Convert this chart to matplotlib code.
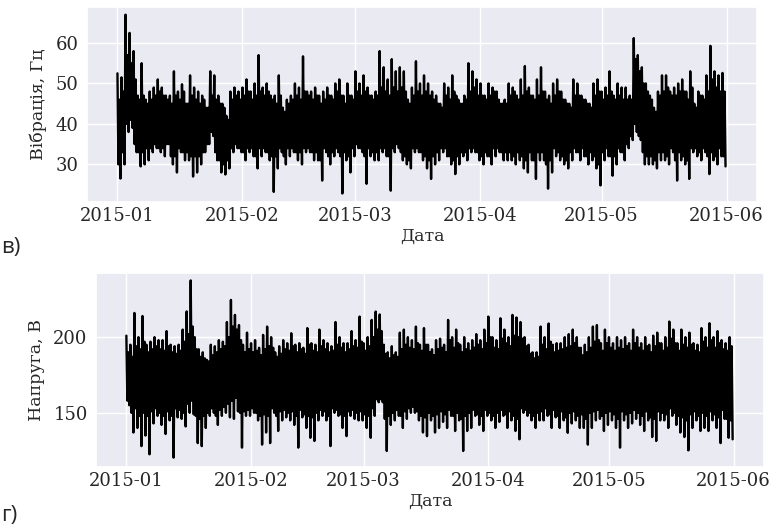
import numpy as np
import pandas as pd
import matplotlib
matplotlib.use("Agg")
import matplotlib.pyplot as plt
import matplotlib.dates as mdates
import seaborn as sns

START = "2015-01-01"

# Vibration (Hz), one entry per day from 2015-01-01 to 2015-05-31:
# daily peak, daily trough, and the upper / lower edge of the dense band
vib_high = [52.5, 51.5, 67.0, 62.5, 58.0, 47.0, 55.0, 46.0, 48.0, 49.0,
            51.0, 49.0, 47.0, 47.0, 53.0, 48.0, 49.8, 45.0, 52.0, 49.0,
            48.0, 47.0, 44.0, 53.0, 52.0, 47.0, 45.0, 42.0, 48.0, 49.0,
            48.0, 49.0, 51.0, 48.0, 50.0, 57.0, 49.0, 50.0, 47.0, 47.0,
            52.0, 44.0, 46.0, 47.0, 50.0, 49.0, 56.7, 48.0, 48.0, 49.0,
            47.0, 48.0, 49.0, 47.0, 50.0, 51.0, 47.0, 50.0, 47.0, 53.0,
            50.0, 52.0, 49.0, 47.0, 48.0, 58.0, 54.0, 51.0, 56.0, 53.0,
            54.0, 53.0, 46.0, 49.0, 55.5, 50.0, 52.0, 50.0, 48.0, 47.0,
            45.0, 50.0, 49.0, 52.0, 47.0, 45.0, 47.0, 55.0, 53.0, 51.0,
            50.0, 47.0, 50.0, 49.0, 48.0, 45.0, 46.0, 50.0, 49.0, 47.0,
            51.0, 54.3, 49.0, 47.0, 51.0, 54.0, 48.0, 47.0, 50.0, 51.0,
            48.0, 46.0, 45.0, 51.0, 50.0, 47.0, 46.0, 45.0, 50.0, 51.0,
            48.0, 49.0, 53.0, 47.0, 50.0, 49.0, 49.0, 47.0, 61.2, 57.0,
            54.0, 50.0, 47.0, 44.0, 48.0, 52.0, 52.0, 48.0, 49.0, 50.0,
            51.0, 48.0, 53.0, 45.0, 48.0, 47.0, 52.0, 59.3, 53.0, 52.0,
            52.6]
vib_low = [26.5, 30.0, 38.0, 39.0, 33.0, 29.5, 30.0, 31.0, 33.0, 34.0,
           33.0, 32.0, 35.0, 30.0, 28.0, 33.0, 31.0, 31.0, 27.0, 28.0,
           30.0, 33.0, 35.0, 37.0, 31.0, 28.0, 27.5, 29.0, 33.0, 34.0,
           33.0, 31.0, 33.0, 32.0, 29.0, 32.0, 33.0, 31.0, 23.2, 29.0,
           33.0, 30.0, 32.0, 33.0, 31.0, 30.0, 33.0, 33.0, 31.0, 31.0,
           26.0, 33.0, 30.0, 32.0, 33.0, 22.8, 31.0, 28.0, 32.0, 34.0,
           33.0, 25.2, 32.0, 31.0, 31.0, 33.0, 32.0, 23.5, 33.0, 34.0,
           31.0, 30.0, 29.0, 33.0, 33.0, 31.0, 29.0, 26.4, 30.0, 31.0,
           33.0, 32.0, 30.0, 27.6, 30.0, 32.0, 31.0, 33.0, 33.0, 31.0,
           30.0, 32.0, 30.0, 32.0, 33.0, 31.0, 31.0, 31.0, 30.0, 31.0,
           29.0, 28.0, 31.0, 26.4, 31.0, 31.0, 24.0, 28.0, 32.0, 31.0,
           30.0, 29.0, 31.0, 33.0, 31.0, 32.0, 30.0, 31.0, 29.0, 24.8,
           31.0, 32.0, 27.2, 30.0, 33.0, 31.0, 34.0, 36.0, 38.0, 36.0,
           30.0, 30.0, 30.0, 29.0, 31.0, 31.0, 30.0, 33.0, 26.0, 31.0,
           30.0, 26.4, 33.0, 32.0, 31.0, 33.0, 27.6, 31.0, 30.0, 32.0,
           29.5]
vib_band_top = [46, 48, 57, 55, 51, 46, 47, 45, 46, 47,
                48, 47, 46, 45, 47, 46, 48, 45, 47, 46,
                45, 46, 44, 47, 46, 45, 44, 41, 46, 47,
                46, 47, 48, 46, 47, 48, 47, 48, 46, 45,
                47, 43, 45, 46, 47, 46, 48, 47, 46, 47,
                45, 46, 47, 46, 48, 47, 45, 47, 46, 48,
                47, 48, 47, 46, 47, 49, 48, 47, 49, 48,
                49, 48, 45, 47, 48, 47, 48, 47, 46, 45,
                44, 47, 46, 48, 46, 45, 46, 48, 49, 47,
                47, 46, 47, 48, 46, 45, 45, 47, 48, 46,
                47, 48, 47, 46, 47, 48, 46, 45, 47, 48,
                46, 45, 44, 47, 47, 46, 45, 44, 47, 48,
                46, 47, 48, 46, 47, 46, 46, 46, 56, 53,
                50, 48, 46, 43, 47, 48, 49, 47, 47, 48,
                48, 46, 49, 44, 47, 46, 48, 51, 49, 48,
                48]
vib_band_bot = [30, 33, 40, 41, 35, 33, 33, 34, 34, 35,
                34, 34, 35, 32, 32, 34, 33, 33, 32, 32,
                32, 33, 35, 38, 33, 31, 30, 31, 34, 35,
                34, 33, 34, 34, 32, 34, 34, 33, 32, 32,
                34, 32, 34, 34, 33, 33, 34, 34, 33, 33,
                31, 34, 32, 33, 34, 32, 33, 32, 34, 35,
                34, 32, 34, 33, 33, 34, 34, 32, 34, 35,
                33, 32, 31, 34, 34, 33, 32, 31, 32, 33,
                34, 34, 32, 31, 32, 33, 33, 34, 34, 33,
                32, 33, 32, 34, 34, 33, 33, 33, 32, 33,
                32, 31, 33, 31, 33, 33, 30, 31, 34, 33,
                32, 31, 33, 34, 33, 34, 32, 33, 32, 30,
                33, 34, 32, 32, 34, 33, 35, 37, 40, 37,
                33, 32, 32, 31, 33, 33, 32, 34, 31, 33,
                32, 31, 34, 34, 33, 34, 32, 33, 32, 34,
                32]

# Voltage (V), same layout
volt_high = [201, 195, 216, 200, 214, 195, 197, 200, 198, 198,
             204, 195, 194, 195, 205, 217, 237.5, 200, 192, 190,
             185, 195, 194, 198, 197, 210, 224.6, 214.7, 208, 195,
             203, 196, 198, 193, 201.5, 207, 200, 190, 194, 198,
             196, 202.6, 195, 196, 193, 206, 196, 195, 205, 198,
             196, 194, 210, 200, 196, 196, 204, 198, 213.6, 196,
             200, 211.4, 216.9, 215, 195, 190, 194, 190, 203, 205,
             200, 198, 207, 195, 206, 195, 192, 198, 199, 195,
             211.4, 200, 205, 195, 200, 196, 198, 202, 198, 205,
             213.6, 200, 198, 212.5, 205, 200, 214.7, 213, 210, 200,
             195, 190, 190, 207, 200, 209, 195, 196, 196, 200,
             202, 205, 200, 193, 195, 200, 207, 208, 196, 205,
             200, 196, 200, 198, 200, 196, 205, 200, 196, 200,
             195, 201, 203, 196, 200, 210.3, 205, 196, 205, 200,
             203, 196, 195, 206, 200, 209.2, 200, 204, 198, 196,
             200]
volt_low = [155, 137, 140, 128, 135, 122.6, 143, 148, 142, 136,
            145, 120.4, 147, 146, 141, 150, 149, 130, 128, 140,
            148, 150, 142, 148, 150, 147, 146, 151, 127, 148,
            148, 150, 145, 129, 137, 130, 150, 138, 145, 147,
            145, 142, 127, 147, 140, 133.5, 131.4, 145, 148, 145,
            128, 150, 148, 140, 134.6, 148, 146, 145, 145, 140,
            133.5, 148, 157, 157, 124.8, 142, 145, 148, 140, 146,
            150, 150, 145, 137, 134.6, 145, 137, 140, 144, 140,
            148, 138, 145, 124.8, 138, 140, 148, 142, 138, 148,
            145, 140, 144, 148, 140, 145, 138, 132.5, 150, 148,
            145, 140, 145, 145, 148, 140, 147, 140, 145, 136.8,
            143, 145, 140, 140, 129, 140, 145, 146, 138, 142,
            145, 140, 127, 145, 140, 143, 146, 142, 138, 145,
            134, 131.4, 145, 145, 140, 148, 142, 137, 134, 125.2,
            140, 145, 138, 140, 138, 145, 140, 130, 146, 133.5,
            132.5]
volt_band_top = [190, 187, 194, 192, 197, 190, 192, 194, 192, 191,
                 194, 190, 189, 191, 197, 202, 207, 192, 187, 186,
                 184, 188, 190, 192, 194, 200, 207, 205, 198, 190,
                 192, 190, 191, 188, 192, 194, 193, 187, 189, 192,
                 191, 194, 190, 192, 189, 195, 191, 190, 194, 192,
                 190, 191, 195, 193, 190, 192, 194, 193, 197, 191,
                 194, 200, 205, 204, 189, 186, 188, 187, 192, 195,
                 193, 192, 196, 191, 195, 190, 188, 192, 193, 190,
                 198, 193, 196, 190, 192, 191, 193, 195, 192, 196,
                 200, 193, 192, 199, 196, 194, 201, 200, 199, 194,
                 189, 186, 187, 195, 192, 197, 190, 191, 192, 193,
                 194, 196, 193, 188, 190, 193, 197, 198, 191, 196,
                 193, 191, 193, 192, 194, 191, 196, 193, 191, 194,
                 190, 194, 196, 191, 193, 199, 196, 191, 195, 193,
                 195, 191, 190, 197, 193, 198, 193, 196, 192, 191,
                 194]
volt_band_bot = [158, 150, 153, 148, 150, 148, 151, 153, 150, 148,
                 151, 148, 153, 152, 150, 156, 158, 148, 146, 148,
                 150, 153, 148, 152, 154, 156, 158, 160, 150, 151,
                 152, 153, 150, 148, 149, 148, 153, 148, 151, 152,
                 150, 151, 148, 152, 149, 148, 147, 150, 152, 151,
                 148, 153, 152, 149, 148, 151, 152, 150, 151, 149,
                 148, 153, 159, 159, 146, 148, 150, 152, 148, 151,
                 153, 154, 151, 148, 147, 150, 148, 149, 151, 149,
                 152, 148, 150, 146, 148, 150, 152, 149, 148, 152,
                 150, 148, 150, 152, 149, 151, 148, 146, 153, 152,
                 150, 148, 150, 151, 153, 149, 152, 148, 151, 147,
                 150, 151, 148, 149, 146, 150, 151, 152, 148, 150,
                 151, 149, 146, 151, 149, 150, 152, 150, 148, 151,
                 147, 146, 151, 150, 149, 153, 150, 148, 147, 145,
                 149, 151, 148, 150, 148, 151, 149, 147, 152, 146,
                 145]

x_ticks_fmt = "%Y-%m"
vib_yticks = [30, 40, 50, 60]
volt_yticks = [150, 200]


def build_series(high, low, band_top, band_bot):
    """Four readings per day (every 6 h): peak, band bottom, band top, trough."""
    hi = np.asarray(high, float)
    lo = np.asarray(low, float)
    bt = np.clip(np.asarray(band_top, float), lo, hi)
    bb = np.clip(np.asarray(band_bot, float), lo, hi)
    vals = np.column_stack([hi, bb, bt, lo]).ravel()
    times = pd.date_range(START, periods=vals.size, freq="6h")
    return pd.Series(vals, index=times)


sns.set_theme(style="darkgrid")
plt.rcParams["font.family"] = ["DejaVu Serif"]

vib = build_series(vib_high, vib_low, vib_band_top, vib_band_bot)
volt = build_series(volt_high, volt_low, volt_band_top, volt_band_bot)

W, H = 774, 528
fig = plt.figure(figsize=(W / 100, H / 100), dpi=100)
ax1 = fig.add_axes([87 / W, 1 - 202 / H, 670 / W, 195 / H])
ax2 = fig.add_axes([96 / W, 1 - 467 / H, 668 / W, 194 / H])

pad = pd.Timedelta(days=7.55)
x0, x1 = pd.Timestamp("2015-01-01"), pd.Timestamp("2015-06-01")

for ax, s, ylab, ylim, yt in [
    (ax1, vib, "Вібрація, Гц", (20.7, 68.9), vib_yticks),
    (ax2, volt, "Напруга, В", (114.2, 242.4), volt_yticks),
]:
    ax.plot(s.index, s.values, color="black", lw=1.7)
    ax.set_xlim(x0 - pad, x1 + pad)
    ax.set_ylim(*ylim)
    ax.set_yticks(yt)
    ax.xaxis.set_major_locator(mdates.MonthLocator())
    ax.xaxis.set_major_formatter(mdates.DateFormatter(x_ticks_fmt))
    ax.tick_params(labelsize=13, colors="#262626", length=0)
    ax.tick_params(axis="x", pad=3.5)
    ax.tick_params(axis="y", pad=6)
    ax.set_xlabel("Дата", fontsize=12.5, color="#262626", labelpad=2)
    ax.set_ylabel(ylab, fontsize=12.5, color="#262626", labelpad=6)

fig.text(0.002, 1 - 247 / H, "в)", family=["Open Sans", "DejaVu Sans"],
         fontsize=16, va="center", ha="left")
fig.text(0.002, 1 - 516 / H, "г)", family=["Open Sans", "DejaVu Sans"],
         fontsize=16, va="center", ha="left")

fig.savefig("out.png", dpi=100)
